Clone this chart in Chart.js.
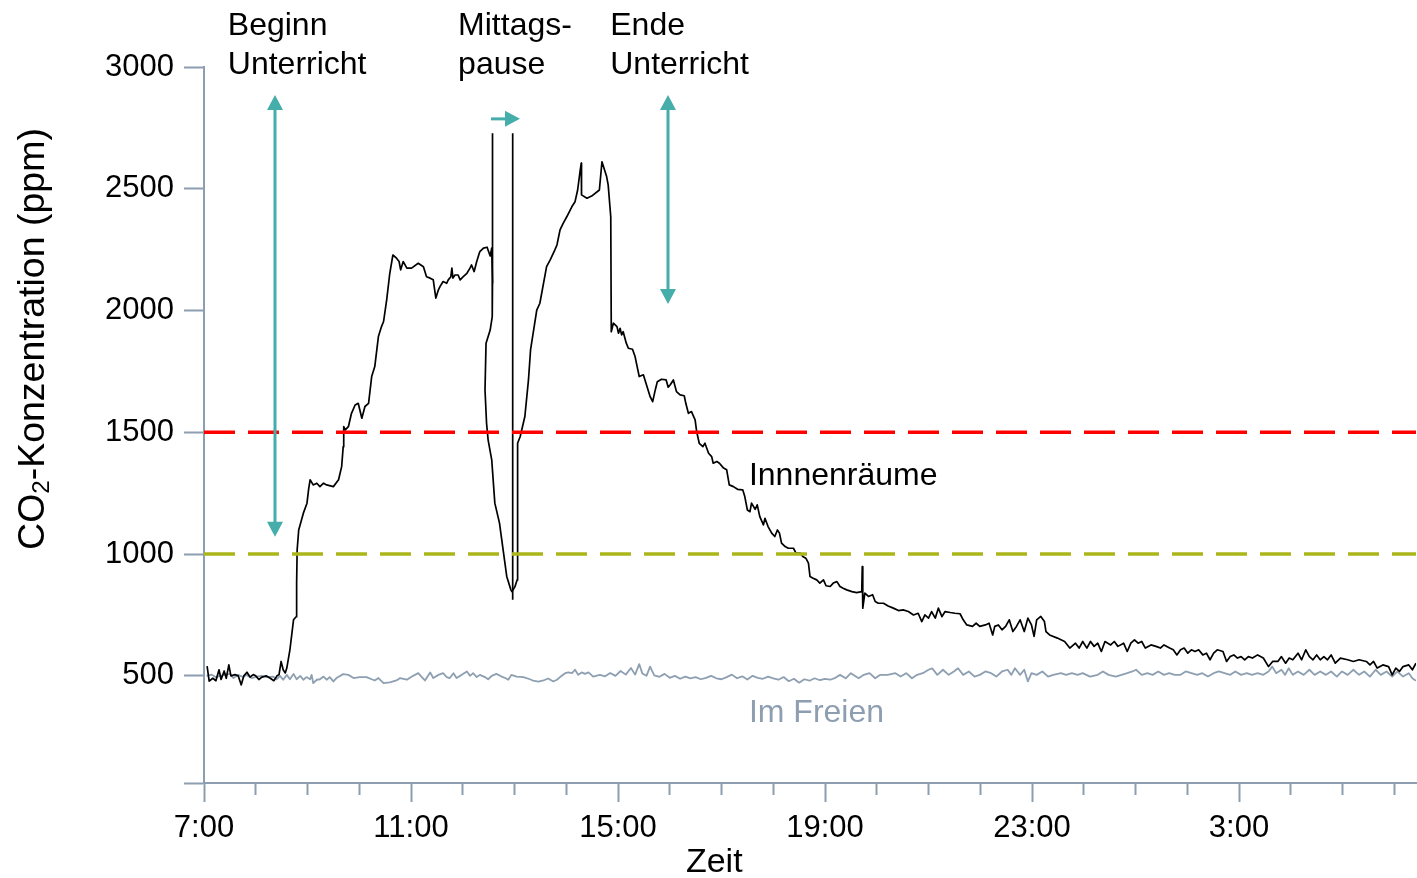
<!DOCTYPE html>
<html>
<head>
<meta charset="utf-8">
<script src="https://cdn.jsdelivr.net/npm/chart.js@4.4.1/dist/chart.umd.min.js"></script>
<style>
  body { margin: 0; background: #fff; }
  #co2Chart { display: block; }
</style>
</head>
<body>
<canvas id="co2Chart" width="1417" height="878"></canvas>
<script>
// hours after 7:00, ppm
const indoorHours = [
    0.06, 0.10, 0.17, 0.23, 0.29, 0.33, 0.39, 0.43, 0.48, 0.52,
    0.60, 0.66, 0.72, 0.77, 0.83, 0.89, 0.95, 1.00, 1.06, 1.12,
    1.20, 1.28, 1.35, 1.41, 1.45, 1.49, 1.53, 1.57, 1.60, 1.66,
    1.73, 1.78, 1.79, 1.80, 1.83, 1.92, 1.99, 2.02, 2.05, 2.11,
    2.18, 2.24, 2.31, 2.37, 2.50, 2.60, 2.66, 2.69, 2.70, 2.73,
    2.79, 2.85, 2.92, 2.98, 3.05, 3.11, 3.18, 3.24, 3.30, 3.37,
    3.43, 3.47, 3.53, 3.59, 3.65, 3.72, 3.77, 3.80, 3.85, 3.92,
    4.01, 4.14, 4.24, 4.30, 4.37, 4.43, 4.48, 4.53, 4.56, 4.62,
    4.69, 4.72, 4.77, 4.79, 4.81, 4.85, 4.91, 4.95, 5.01, 5.08,
    5.14, 5.17, 5.22, 5.27, 5.33, 5.40, 5.47, 5.53, 5.56, 5.575,
    5.57, 5.53, 5.45, 5.43, 5.46, 5.49, 5.56, 5.62, 5.71, 5.78,
    5.85, 5.93, 5.95, 6.01, 6.05, 6.06, 6.11, 6.20, 6.27, 6.31,
    6.43, 6.49, 6.62, 6.69, 6.78, 6.82, 6.88, 6.94, 7.01, 7.11,
    7.17, 7.22, 7.27, 7.29, 7.29, 7.30, 7.40, 7.49, 7.64, 7.69,
    7.78, 7.81, 7.86, 7.87, 7.91, 7.98, 8.01, 8.04, 8.07, 8.10,
    8.16, 8.20, 8.28, 8.33, 8.37, 8.41, 8.49, 8.56, 8.62, 8.67,
    8.72, 8.76, 8.84, 8.93, 8.97, 9.01, 9.07, 9.13, 9.20, 9.28,
    9.31, 9.36, 9.42, 9.49, 9.52, 9.57, 9.64, 9.68, 9.75, 9.81,
    9.84, 9.91, 9.96, 10.04, 10.10, 10.15, 10.23, 10.31, 10.41, 10.45,
    10.50, 10.55, 10.58, 10.65, 10.69, 10.74, 10.81, 10.84, 10.90, 10.97,
    11.03, 11.08, 11.12, 11.16, 11.23, 11.29, 11.39, 11.44, 11.52, 11.57,
    11.63, 11.68, 11.71, 11.77, 11.84, 11.90, 11.97, 12.02, 12.10, 12.16,
    12.23, 12.29, 12.35, 12.42, 12.52, 12.61, 12.71, 12.72, 12.73, 12.77,
    12.84, 12.92, 12.97, 13.03, 13.13, 13.22, 13.32, 13.42, 13.51, 13.61,
    13.71, 13.80, 13.87, 13.93, 14.00, 14.06, 14.13, 14.19, 14.26, 14.32,
    14.42, 14.51, 14.61, 14.67, 14.74, 14.85, 14.92, 14.99, 15.10, 15.17,
    15.24, 15.28, 15.35, 15.42, 15.49, 15.56, 15.63, 15.70, 15.77, 15.85,
    15.92, 15.99, 16.04, 16.09, 16.17, 16.24, 16.27, 16.34, 16.49, 16.63,
    16.73, 16.84, 16.91, 16.98, 17.06, 17.13, 17.20, 17.27, 17.34, 17.41,
    17.52, 17.59, 17.66, 17.77, 17.84, 17.91, 17.98, 18.05, 18.12, 18.19,
    18.30, 18.41, 18.48, 18.55, 18.66, 18.73, 18.80, 18.87, 18.94, 19.01,
    19.08, 19.15, 19.22, 19.30, 19.37, 19.44, 19.51, 19.58, 19.69, 19.76,
    19.83, 19.90, 19.97, 20.04, 20.11, 20.18, 20.26, 20.36, 20.47, 20.57,
    20.65, 20.75, 20.82, 20.90, 20.97, 21.04, 21.14, 21.21, 21.29, 21.36,
    21.43, 21.50, 21.57, 21.64, 21.71, 21.78, 21.86, 21.96, 22.10, 22.21,
    22.32, 22.46, 22.53, 22.60, 22.67, 22.78, 22.89, 22.96, 23.03, 23.10,
    23.17, 23.28, 23.35, 23.42
];
const indoorPpm = [
    540, 478, 490, 480, 525, 485, 520, 490, 545, 500,
    505, 500, 463, 500, 515, 495, 505, 500, 485, 495,
    500, 490, 480, 500, 505, 559, 525, 512, 532, 607,
    730, 743, 880, 1017, 1099, 1168, 1209, 1264, 1305, 1284,
    1291, 1277, 1291, 1284, 1277, 1305, 1359, 1441, 1523, 1510,
    1523, 1578, 1612, 1619, 1558, 1606, 1619, 1729, 1770, 1893,
    1934, 1955, 2044, 2153, 2228, 2215, 2201, 2167, 2201, 2174,
    2174, 2194, 2180, 2139, 2133, 2126, 2051, 2085, 2098, 2119,
    2112, 2126, 2139, 2174, 2133, 2146, 2146, 2126, 2139, 2153,
    2174, 2187, 2160, 2201, 2242, 2256, 2260, 2224, 2256, 2112,
    1975, 1920, 1866, 1674, 1537, 1469, 1387, 1209, 1127, 1017,
    908, 853, 846, 867, 894, 1455, 1483, 1565, 1715, 1838,
    2002, 2030, 2180, 2208, 2249, 2269, 2331, 2358, 2385, 2427,
    2447, 2495, 2577, 2605, 2523, 2475, 2461, 2470, 2495, 2611,
    2550, 2516, 2385, 1913, 1948, 1934, 1907, 1927, 1900, 1913,
    1866, 1845, 1841, 1811, 1770, 1729, 1736, 1688, 1647, 1626,
    1674, 1708, 1718, 1715, 1685, 1695, 1715, 1667, 1654, 1650,
    1619, 1578, 1585, 1551, 1503, 1455, 1441, 1455, 1414, 1400,
    1373, 1380, 1373, 1353, 1346, 1284, 1277, 1266, 1264, 1236,
    1181, 1174, 1209, 1184, 1202, 1154, 1120, 1147, 1113, 1086,
    1072, 1099, 1086, 1045, 1031, 1024, 1024, 1004, 1004, 990,
    983, 963, 908, 901, 894, 881, 894, 870, 867, 881,
    887, 867, 860, 853, 846, 842, 846, 949, 778, 840,
    826, 833, 805, 798, 798, 787, 778, 768, 771, 764,
    750, 757, 723, 750, 737, 764, 737, 778, 743, 764,
    760, 757, 755, 730, 709, 703, 716, 703, 709, 716,
    668, 703, 709, 689, 703, 730, 682, 703, 730, 682,
    737, 709, 662, 730, 744, 723, 682, 668, 655, 641,
    614, 634, 614, 641, 614, 641, 621, 634, 600, 641,
    627, 641, 621, 634, 600, 634, 648, 634, 641, 614,
    627, 620, 614, 627, 614, 607, 586, 607, 614, 593,
    607, 600, 607, 586, 593, 566, 593, 607, 600, 559,
    579, 586, 573, 579, 566, 579, 573, 586, 573, 538,
    559, 559, 579, 552, 573, 566, 593, 566, 607, 579,
    566, 586, 566, 579, 566, 586, 552, 573, 566, 559,
    566, 559, 545, 559, 532, 545, 538, 504, 532, 518,
    538, 545, 525, 552
];

const outdoorHours = [
    0.05, 0.15, 0.22, 0.31, 0.50, 0.57, 0.66, 0.76, 0.82, 0.92,
    1.02, 1.11, 1.21, 1.34, 1.40, 1.47, 1.53, 1.60, 1.66, 1.73,
    1.79, 1.86, 1.92, 1.98, 2.05, 2.08, 2.11, 2.18, 2.24, 2.31,
    2.37, 2.43, 2.50, 2.56, 2.69, 2.79, 2.89, 3.01, 3.14, 3.24,
    3.30, 3.37, 3.47, 3.59, 3.72, 3.79, 3.92, 4.04, 4.14, 4.20,
    4.27, 4.37, 4.43, 4.53, 4.62, 4.69, 4.75, 4.82, 4.88, 4.98,
    5.08, 5.14, 5.20, 5.27, 5.33, 5.43, 5.49, 5.56, 5.65, 5.75,
    5.82, 5.88, 5.94, 6.04, 6.17, 6.30, 6.36, 6.46, 6.56, 6.65,
    6.75, 6.82, 6.88, 6.98, 7.04, 7.11, 7.17, 7.23, 7.30, 7.36,
    7.43, 7.52, 7.65, 7.75, 7.85, 7.95, 8.05, 8.15, 8.25, 8.33,
    8.41, 8.47, 8.55, 8.62, 8.70, 8.80, 8.90, 9.00, 9.10, 9.20,
    9.30, 9.40, 9.50, 9.60, 9.70, 9.80, 9.90, 10.00, 10.10, 10.20,
    10.30, 10.40, 10.50, 10.60, 10.70, 10.80, 10.90, 11.00, 11.10, 11.20,
    11.30, 11.40, 11.50, 11.60, 11.70, 11.80, 11.90, 12.00, 12.10, 12.20,
    12.29, 12.40, 12.50, 12.65, 12.75, 12.86, 12.97, 13.07, 13.21, 13.36,
    13.46, 13.57, 13.68, 13.78, 13.89, 14.00, 14.07, 14.17, 14.28, 14.39,
    14.49, 14.57, 14.67, 14.78, 14.89, 14.99, 15.10, 15.21, 15.31, 15.42,
    15.53, 15.60, 15.67, 15.77, 15.85, 15.92, 15.99, 16.09, 16.20, 16.31,
    16.41, 16.56, 16.66, 16.77, 16.88, 16.98, 17.12, 17.27, 17.37, 17.48,
    17.62, 17.73, 17.84, 17.94, 18.01, 18.12, 18.23, 18.33, 18.44, 18.55,
    18.65, 18.76, 18.87, 18.97, 19.08, 19.19, 19.29, 19.40, 19.51, 19.61,
    19.72, 19.83, 19.93, 20.04, 20.15, 20.25, 20.36, 20.47, 20.57, 20.64,
    20.72, 20.82, 20.89, 20.96, 21.04, 21.14, 21.25, 21.36, 21.46, 21.57,
    21.68, 21.78, 21.89, 21.99, 22.10, 22.21, 22.32, 22.42, 22.53, 22.64,
    22.74, 22.85, 22.96, 23.06, 23.17, 23.28, 23.35, 23.42
];
const outdoorPpm = [
    500, 505, 495, 500, 508, 491, 504, 495, 504, 491,
    497, 500, 495, 497, 486, 500, 484, 504, 486, 508,
    486, 500, 484, 495, 486, 504, 470, 484, 486, 497,
    484, 495, 477, 491, 507, 504, 491, 495, 495, 486,
    481, 491, 470, 473, 481, 491, 484, 500, 511, 497,
    481, 514, 491, 504, 511, 495, 491, 511, 491, 504,
    518, 500, 511, 495, 504, 495, 486, 500, 508, 497,
    491, 484, 504, 497, 495, 486, 480, 476, 481, 489,
    477, 484, 495, 511, 514, 511, 525, 504, 514, 508,
    514, 497, 504, 498, 512, 500, 520, 505, 532, 505,
    548, 510, 500, 538, 502, 496, 508, 492, 500, 488,
    497, 490, 495, 486, 492, 500, 490, 486, 495, 505,
    490, 498, 485, 500, 492, 488, 497, 490, 484, 495,
    478, 488, 472, 486, 480, 490, 482, 488, 484, 492,
    504, 490, 511, 490, 504, 511, 490, 504, 504, 511,
    497, 511, 490, 504, 511, 525, 531, 504, 525, 504,
    518, 531, 504, 518, 497, 504, 518, 511, 497, 518,
    525, 504, 531, 504, 525, 477, 511, 504, 518, 497,
    504, 511, 504, 511, 504, 511, 497, 504, 518, 504,
    497, 504, 511, 518, 525, 504, 511, 504, 518, 504,
    511, 504, 504, 518, 511, 504, 511, 497, 511, 518,
    511, 504, 518, 504, 511, 504, 511, 504, 518, 538,
    511, 525, 504, 531, 504, 518, 504, 525, 504, 518,
    504, 518, 497, 518, 504, 525, 504, 518, 497, 525,
    504, 518, 497, 518, 497, 511, 490, 480
];

// lunch break markers (start, end)
const pauseHours = [5.575, 5.965];
const pauseLow = [2112, 812];
const pauseHigh = 2728;

const limitValues = [1500, 1000];

const tickHours = [0, 4, 8, 12, 16, 20];
const tickLabels = ['7:00', '11:00', '15:00', '19:00', '23:00', '3:00'];
const yTicks = [60, 500, 1000, 1500, 2000, 2500, 3000];
const xMax = 23.42;

const axisColor = '#8d9eb1';
const teal = '#45adaa';
const font = '"Liberation Sans", Arial, sans-serif';

function toPoints(xs, ys) {
    return xs.map((x, i) => ({ x: x, y: ys[i] }));
}

function drawArrow(ctx, x1, y1, x2, y2, both) {
    const head = 15, half = 8;
    const ang = Math.atan2(y2 - y1, x2 - x1);
    const len = Math.hypot(x2 - x1, y2 - y1);
    ctx.save();
    ctx.translate(x1, y1);
    ctx.rotate(ang);
    ctx.lineWidth = 3;
    ctx.beginPath();
    ctx.moveTo(both ? head - 1 : 0, 0);
    ctx.lineTo(len - head + 1, 0);
    ctx.stroke();
    ctx.beginPath();
    ctx.moveTo(len, 0);
    ctx.lineTo(len - head, -half);
    ctx.lineTo(len - head, half);
    ctx.closePath();
    ctx.fill();
    if (both) {
        ctx.beginPath();
        ctx.moveTo(0, 0);
        ctx.lineTo(head, -half);
        ctx.lineTo(head, half);
        ctx.closePath();
        ctx.fill();
    }
    ctx.restore();
}

// arrows and labels, placed in data units
const notesPlugin = {
    id: 'notes',
    afterDraw(chart) {
        const { ctx, scales: { x, y } } = chart;
        ctx.save();
        ctx.strokeStyle = teal;
        ctx.fillStyle = teal;
        drawArrow(ctx, x.getPixelForValue(1.372), y.getPixelForValue(1071),
            x.getPixelForValue(1.372), y.getPixelForValue(2885), true);
        drawArrow(ctx, x.getPixelForValue(8.966), y.getPixelForValue(2027),
            x.getPixelForValue(8.966), y.getPixelForValue(2885), true);
        drawArrow(ctx, x.getPixelForValue(5.546), y.getPixelForValue(2787),
            x.getPixelForValue(6.106), y.getPixelForValue(2787), false);

        ctx.fillStyle = '#000';
        ctx.font = '32px ' + font;
        ctx.textBaseline = 'alphabetic';
        ctx.textAlign = 'left';
        const notes = [
            [0.46, ['Beginn', 'Unterricht']],
            [4.91, ['Mittags-', 'pause']],
            [7.85, ['Ende', 'Unterricht']]
        ];
        notes.forEach(([t, lines]) => {
            const px = x.getPixelForValue(t);
            const py = y.getPixelForValue(3131);
            lines.forEach((s, i) => ctx.fillText(s, px, py + i * 39));
        });
        ctx.fillText('Innnenräume', x.getPixelForValue(10.53), y.getPixelForValue(1284));
        ctx.fillStyle = axisColor;
        ctx.fillText('Im Freien', x.getPixelForValue(10.53), y.getPixelForValue(311));

        // axis titles
        ctx.fillStyle = '#000';
        ctx.font = '34px ' + font;
        ctx.textAlign = 'center';
        ctx.fillText('Zeit', x.getPixelForValue(9.86), x.bottom - 6);

        ctx.translate(y.left + 44, y.getPixelForValue(1883));
        ctx.rotate(-Math.PI / 2);
        ctx.textAlign = 'left';
        const big = '37.5px ' + font, small = '24px ' + font;
        ctx.font = big;
        const wCO = ctx.measureText('CO').width;
        const wRest = ctx.measureText('-Konzentration (ppm)').width;
        ctx.font = small;
        const w2 = ctx.measureText('2').width;
        let sx = -(wCO + w2 + wRest) / 2;
        ctx.font = big;
        ctx.fillText('CO', sx, 0);
        sx += wCO;
        ctx.font = small;
        ctx.fillText('2', sx, 5);
        sx += w2;
        ctx.font = big;
        ctx.fillText('-Konzentration (ppm)', sx, 0);
        ctx.restore();
    }
};

const ctx = document.getElementById('co2Chart').getContext('2d');
const co2Chart = new Chart(ctx, {
    type: 'line',
    data: {
        datasets: [
            {
                label: 'Grenzwert 1500',
                data: [{ x: 0, y: limitValues[0] }, { x: xMax, y: limitValues[0] }],
                borderColor: '#ff0000',
                borderWidth: 3.5,
                borderDash: [31, 13],
                order: 0
            },
            {
                label: 'Grenzwert 1000',
                data: [{ x: 0, y: limitValues[1] }, { x: xMax, y: limitValues[1] }],
                borderColor: '#abb61b',
                borderWidth: 3.5,
                borderDash: [31, 13],
                order: 0
            },
            {
                label: 'Innenräume',
                data: toPoints(indoorHours, indoorPpm),
                borderColor: '#000000',
                borderWidth: 1.7,
                order: 1
            },
            {
                label: 'Beginn Pause',
                data: [{ x: pauseHours[0], y: pauseLow[0] }, { x: pauseHours[0], y: pauseHigh }],
                borderColor: '#000000',
                borderWidth: 1.7,
                order: 1
            },
            {
                label: 'Ende Pause',
                data: [{ x: pauseHours[1], y: pauseLow[1] }, { x: pauseHours[1], y: pauseHigh }],
                borderColor: '#000000',
                borderWidth: 1.7,
                order: 1
            },
            {
                label: 'Im Freien',
                data: toPoints(outdoorHours, outdoorPpm),
                borderColor: '#8d9fb1',
                borderWidth: 1.8,
                order: 2
            }
        ]
    },
    options: {
        responsive: false,
        animation: false,
        layout: {
            padding: { left: 0, right: 1, top: 67, bottom: 0 }
        },
        elements: {
            point: { radius: 0 },
            line: { tension: 0, borderJoinStyle: 'round', fill: false }
        },
        plugins: {
            legend: { display: false },
            tooltip: { enabled: false }
        },
        scales: {
            x: {
                type: 'linear',
                min: 0,
                max: xMax,
                afterBuildTicks: axis => {
                    axis.ticks = [];
                    for (let h = 0; h <= 23; h++) axis.ticks.push({ value: h });
                },
                afterFit: axis => { axis.height = 95; },
                ticks: {
                    autoSkip: false,
                    maxRotation: 0,
                    padding: 8,
                    color: '#000',
                    font: { family: font, size: 31 },
                    callback: value => {
                        const i = tickHours.indexOf(value);
                        return i >= 0 ? tickLabels[i] : '';
                    }
                },
                grid: {
                    drawOnChartArea: false,
                    tickLength: 19,
                    tickWidth: 2,
                    tickColor: axisColor,
                    tickBorderDash: c => tickHours.includes(c.tick.value) ? [] : [11, 40]
                },
                border: { color: axisColor, width: 2 }
            },
            y: {
                min: 60,
                max: 3000,
                afterBuildTicks: axis => {
                    axis.ticks = yTicks.map(v => ({ value: v }));
                },
                afterFit: axis => { axis.width = 204; },
                ticks: {
                    padding: 10,
                    color: '#000',
                    font: { family: font, size: 31 },
                    callback: value => value === 60 ? '' : value
                },
                grid: {
                    drawOnChartArea: false,
                    tickLength: 20,
                    tickWidth: 2,
                    tickColor: axisColor
                },
                border: { color: axisColor, width: 2 }
            }
        }
    },
    plugins: [notesPlugin]
});
</script>
</body>
</html>
